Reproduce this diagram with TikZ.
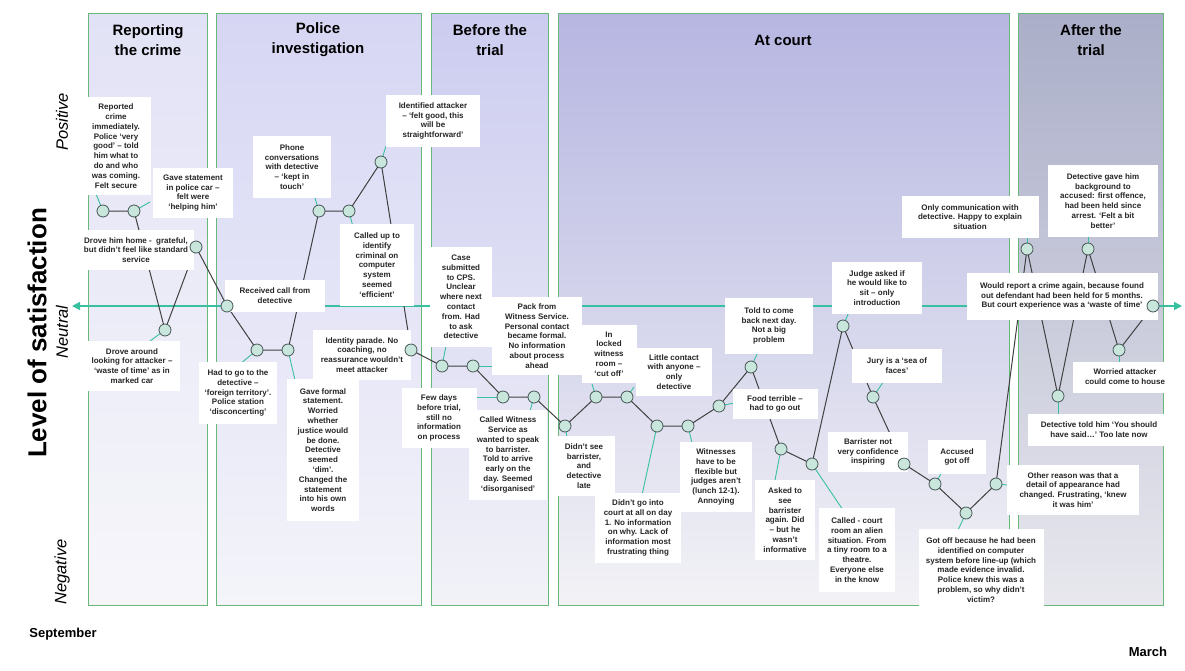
\documentclass[tikz,border=0pt]{standalone}
\usepackage{fontspec}
\setmainfont{Liberation Sans}
\usetikzlibrary{arrows.meta}

\definecolor{panelgreen}{RGB}{104,184,122}
\definecolor{axisteal}{RGB}{56,192,160}
\definecolor{dotfill}{RGB}{200,230,220}
\definecolor{dotline}{RGB}{70,85,85}
\definecolor{trackline}{RGB}{64,64,64}
\definecolor{pA}{RGB}{226,226,246}\definecolor{pAb}{RGB}{246,246,250}
\definecolor{pB}{RGB}{214,214,244}\definecolor{pBb}{RGB}{244,244,250}
\definecolor{pC}{RGB}{204,204,240}\definecolor{pCb}{RGB}{242,242,248}
\definecolor{pD}{RGB}{182,182,226}\definecolor{pDm}{RGB}{210,210,236}\definecolor{pDb}{RGB}{242,242,246}
\definecolor{pE}{RGB}{170,174,200}\definecolor{pEb}{RGB}{232,232,238}

\newcommand{\notefont}{\fontsize{8}{9.8}\selectfont\bfseries}

\begin{document}
\begin{tikzpicture}[x=1pt,y=-1pt,
  panel/.style={draw=panelgreen, line width=0.8pt},
  note/.style={fill=white, inner sep=0pt, align=center, font=\notefont, text=black!85},
  dot/.style={circle, fill=dotfill, draw=dotline, line width=0.8pt, minimum size=12pt, inner sep=0pt},
  lead/.style={draw=axisteal, line width=0.9pt},
  track/.style={draw=trackline, line width=1pt},
  phase/.style={font=\fontsize{15}{20}\selectfont\bfseries, align=center},
  sidelab/.style={rotate=90, font=\fontsize{16.5}{18}\selectfont\itshape},
  month/.style={font=\fontsize{13}{15}\selectfont\bfseries},
  ]
\useasboundingbox (0,0) rectangle (1185,670);
\fill[white] (0,0) rectangle (1185,670);

% phase panels
\shade[top color=pA, bottom color=pAb] (88,13) rectangle (207,605);
\shade[top color=pB, bottom color=pBb] (216,13) rectangle (421,605);
\shade[top color=pC, bottom color=pCb] (431,13) rectangle (548,605);
\shade[top color=pD, middle color=pDm, bottom color=pDb] (558,13) rectangle (1009,605);
\shade[top color=pE, bottom color=pEb] (1018,13) rectangle (1163,605);
\draw[panel] (88,13) rectangle (207,605);
\draw[panel] (216,13) rectangle (421,605);
\draw[panel] (431,13) rectangle (548,605);
\draw[panel] (558,13) rectangle (1009,605);
\draw[panel] (1018,13) rectangle (1163,605);

\node[phase] (h1) at (148,40) {Reporting\\the crime};
\node[phase] (h2) at (318,40) {Police\\investigation};
\node[phase] (h3) at (490,40) {Before the\\trial};
\node[phase] (h4) at (783,40) {At court};
\node[phase] (h5) at (1091,40) {After the\\trial};

% axis labels
\node[rotate=90, font=\fontsize{26}{30}\selectfont\bfseries] (ylab) at (37,333) {Level of satisfaction};
\node[sidelab] (pos) at (62,122) {Positive};
\node[sidelab] (neu) at (62,332) {Neutral};
\node[sidelab] (neg) at (62,572) {Negative};
\node[month] (sep) at (63,634) {September};
\node[month] (mar) at (1148,652) {March};

% neutral axis
\coordinate (axL) at (72,306);
\coordinate (axR) at (1182,306);
\draw[axisteal, line width=1.5pt, {Triangle[length=8pt,width=8pt]}-{Triangle[length=8pt,width=8pt]}] (axL) -- (axR);

% points of the journey
\coordinate (p1) at (103,211);
\coordinate (p2) at (134,211);
\coordinate (p3) at (165,330);
\coordinate (p4) at (196,247);
\coordinate (p5) at (227,306);
\coordinate (p6) at (257,350);
\coordinate (p7) at (288,350);
\coordinate (p8) at (319,211);
\coordinate (p9) at (349,211);
\coordinate (p10) at (381,162);
\coordinate (p11) at (411,350);
\coordinate (p12) at (442,366);
\coordinate (p13) at (473,366);
\coordinate (p14) at (503,397);
\coordinate (p15) at (534,397);
\coordinate (p16) at (565,426);
\coordinate (p17) at (596,397);
\coordinate (p18) at (627,397);
\coordinate (p19) at (657,426);
\coordinate (p20) at (688,426);
\coordinate (p21) at (719,406);
\coordinate (p22) at (751,367);
\coordinate (p23) at (781,449);
\coordinate (p24) at (812,464);
\coordinate (p25) at (843,326);
\coordinate (p26) at (873,397);
\coordinate (p27) at (904,464);
\coordinate (p28) at (935,484);
\coordinate (p29) at (966,513);
\coordinate (p30) at (996,484);
\coordinate (p31) at (1027,249);
\coordinate (p32) at (1058,396);
\coordinate (p33) at (1088,249);
\coordinate (p34) at (1119,350);
\coordinate (p35) at (1153,306);

\draw[track] (p1) -- (p2) -- (p3) -- (p4) -- (p5) -- (p6) -- (p7) -- (p8) -- (p9) -- (p10)
  -- (p11) -- (p12) -- (p13) -- (p14) -- (p15) -- (p16) -- (p17) -- (p18) -- (p19) -- (p20)
  -- (p21) -- (p22) -- (p23) -- (p24) -- (p25) -- (p26) -- (p27) -- (p28) -- (p29) -- (p30)
  -- (p31) -- (p32) -- (p33) -- (p34) -- (p35);

% callout pointer ends
\coordinate (t1) at (96,194);
\coordinate (t2) at (150,202);
\coordinate (t3) at (150,341);
\coordinate (t6) at (240,364);
\coordinate (t7) at (295,380);
\coordinate (t8) at (315,198);
\coordinate (t9) at (353,227);
\coordinate (t10) at (386,146);
\coordinate (t12) at (446,346);
\coordinate (t13) at (494,366);
\coordinate (t14) at (476,397);
\coordinate (t15) at (530,411);
\coordinate (t16) at (567,437);
\coordinate (t17) at (592,384);
\coordinate (t18) at (634,387);
\coordinate (t19) at (642,495);
\coordinate (t20) at (692,443);
\coordinate (t21) at (734,403);
\coordinate (t22) at (758,352);
\coordinate (t23) at (775,480);
\coordinate (t24) at (843,510);
\coordinate (t25) at (849,312);
\coordinate (t26) at (884,381);
\coordinate (t28) at (942,472);
\coordinate (t29) at (958,530);
\coordinate (t30) at (1008,485);
\coordinate (t31) at (1027,236);
\coordinate (t32) at (1058,415);
\coordinate (t33) at (1088,236);
\coordinate (t34) at (1119,363);
\foreach \i in {1,2,3,6,7,8,9,10,12,13,14,15,16,17,18,19,20,21,22,23,24,25,26,28,29,30,31,32,33,34}
  \draw[lead] (p\i) -- (t\i);

% notes
\node[note, minimum width=70pt, minimum height=98pt] (b1) at (116,146) {Reported\\crime\\immediately.\\Police ‘very\\good’ – told\\him what to\\do and who\\was coming.\\Felt secure};
\node[note, minimum width=80pt, minimum height=50pt] (b2) at (193,193) {Gave statement\\in police car –\\felt were\\‘helping him’};
\node[note, minimum width=95pt, minimum height=50pt] (b3) at (132,366) {Drove around\\looking for attacker –\\‘waste of time’ as in\\marked car};
\node[note, minimum width=116pt, minimum height=40pt] (b4) at (136,250) {Drove him home -~~grateful,\\but didn’t feel like standard\\service};
\node[note, minimum width=100pt, minimum height=32pt] (b5) at (275,296) {Received call from\\detective};
\node[note, minimum width=78pt, minimum height=62pt] (b6) at (238,393) {Had to go to the\\detective –\\‘foreign territory’.\\Police station\\‘disconcerting’};
\node[note, minimum width=72pt, minimum height=142pt] (b7) at (323,450) {Gave formal\\statement.\\Worried\\whether\\justice would\\be done.\\Detective\\seemed\\‘dim’.\\Changed the\\statement\\into his own\\words};
\node[note, minimum width=78pt, minimum height=62pt] (b8) at (292,167) {Phone\\conversations\\with detective\\– ‘kept in\\touch’};
\node[note, minimum width=74pt, minimum height=82pt] (b9) at (377,265) {Called up to\\identify\\criminal on\\computer\\system\\seemed\\‘efficient’};
\node[note, minimum width=94pt, minimum height=52pt] (b10) at (433,121) {Identified attacker\\– ‘felt good, this\\will be\\straightforward’};
\node[note, minimum width=98pt, minimum height=50pt] (b11) at (362,355) {Identity parade. No\\coaching, no\\reassurance wouldn’t\\meet attacker};
\node[note, minimum width=62pt, minimum height=100pt] (b12) at (461,297) {Case\\submitted\\to CPS.\\Unclear\\where next\\contact\\from. Had\\to ask\\detective};
\node[note, minimum width=90pt, minimum height=78pt] (b13) at (537,336) {Pack from\\Witness Service.\\Personal contact\\became formal.\\No information\\about process\\ahead};
\node[note, minimum width=75pt, minimum height=60pt] (b14) at (439,418) {Few days\\before trial,\\still no\\information\\on process};
\node[note, minimum width=78pt, minimum height=90pt] (b15) at (508,455) {Called Witness\\Service as\\wanted to speak\\to barrister.\\Told to arrive\\early on the\\day. Seemed\\‘disorganised’};
\node[note, minimum width=62pt, minimum height=60pt] (b16) at (584,466) {Didn’t see\\barrister,\\and\\detective\\late};
\node[note, minimum width=55pt, minimum height=58pt] (b17) at (609,354) {In\\locked\\witness\\room –\\‘cut off’};
\node[note, minimum width=76pt, minimum height=48pt] (b18) at (674,372) {Little contact\\with anyone –\\only\\detective};
\node[note, minimum width=86pt, minimum height=70pt] (b19) at (638,528) {Didn’t go into\\court at all on day\\1. No information\\on why. Lack of\\information most\\frustrating thing};
\node[note, minimum width=72pt, minimum height=70pt] (b20) at (716,477) {Witnesses\\have to be\\flexible but\\judges aren’t\\(lunch 12-1).\\Annoying};
\node[note, minimum width=85pt, minimum height=30pt] (b21) at (775,404) {Food terrible –\\had to go out};
\node[note, minimum width=88pt, minimum height=56pt] (b22) at (769,326) {Told to come\\back next day.\\Not a big\\problem};
\node[note, minimum width=60pt, minimum height=80pt] (b23) at (785,520) {Asked to\\see\\barrister\\again. Did\\– but he\\wasn’t\\informative};
\node[note, minimum width=76pt, minimum height=84pt] (b24) at (857,550) {Called - court\\room an alien\\situation. From\\a tiny room to a\\theatre.\\Everyone else\\in the know};
\node[note, minimum width=90pt, minimum height=52pt] (b25) at (877,288) {Judge asked if\\he would like to\\sit – only\\introduction};
\node[note, minimum width=90pt, minimum height=34pt] (b26) at (897,366) {Jury is a ‘sea of\\faces’};
\node[note, minimum width=80pt, minimum height=40pt] (b27) at (868,452) {Barrister not\\very confidence\\inspiring};
\node[note, minimum width=58pt, minimum height=34pt] (b28) at (957,457) {Accused\\got off};
\node[note, minimum width=125pt, minimum height=82pt] (b29) at (981,570) {Got off because he had been\\identified on computer\\system before line-up (which\\made evidence invalid.\\Police knew this was a\\problem, so why didn’t\\victim?};
\node[note, minimum width=132pt, minimum height=50pt] (b30) at (1073,490) {Other reason was that a\\detail of appearance had\\changed. Frustrating, ‘knew\\it was him’};
\node[note, minimum width=137pt, minimum height=42pt] (b31) at (970,217) {Only communication with\\detective. Happy to explain\\situation};
\node[note, minimum width=142pt, minimum height=32pt] (b32) at (1099,430) {Detective told him ‘You should\\have said…’ Too late now};
\node[note, minimum width=110pt, minimum height=72pt] (b33) at (1103,201) {Detective gave him\\background to\\accused: first offence,\\had been held since\\arrest. ‘Felt a bit\\better’};
\node[note, minimum width=105pt, minimum height=31pt] (b34) at (1125,377) {Worried attacker\\could come to house};
\node[note, minimum width=191pt, minimum height=47pt] (b35) at (1062,296) {Would report a crime again, because found\\out defendant had been held for 5 months.\\But court experience was a ‘waste of time’};

% markers on top
\foreach \i in {1,...,35}
  \node[dot] (d\i) at (p\i) {};
\end{tikzpicture}
\end{document}
